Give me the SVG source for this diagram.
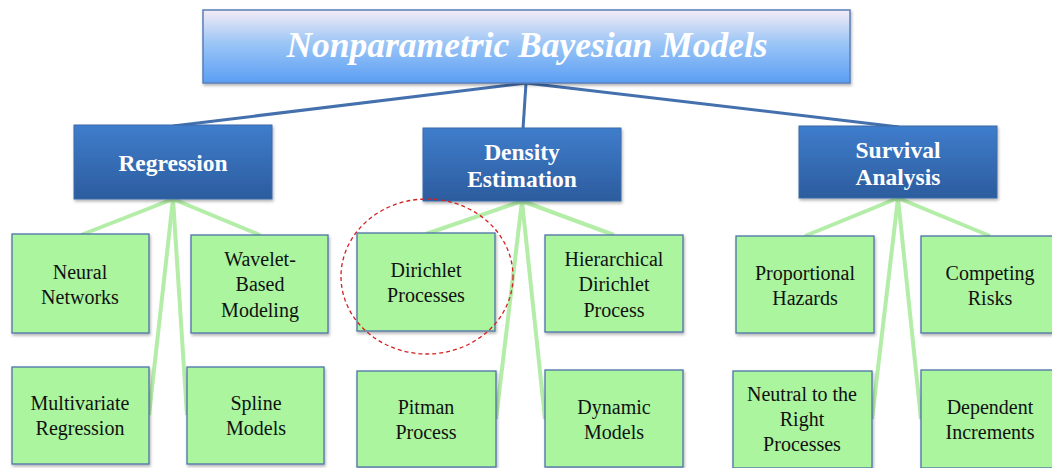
<svg xmlns="http://www.w3.org/2000/svg" width="1052" height="468" viewBox="0 0 1052 468">
<defs>
<linearGradient id="gTitle" x1="0" y1="0" x2="0" y2="1">
<stop offset="0" stop-color="#f4ecf6"/>
<stop offset="0.45" stop-color="#9cc6f6"/>
<stop offset="1" stop-color="#5b9ef4"/>
</linearGradient>
<linearGradient id="gBlue" x1="0" y1="0" x2="0" y2="1">
<stop offset="0" stop-color="#3f7dcc"/>
<stop offset="1" stop-color="#2c5c9e"/>
</linearGradient>
<filter id="sh" x="-10%" y="-10%" width="120%" height="130%">
<feDropShadow dx="1" dy="2" stdDeviation="1.5" flood-color="#000" flood-opacity="0.3"/>
</filter>
</defs>
<style>
.title{fill:url(#gTitle);stroke:#5a7fb8;stroke-width:1.5;filter:url(#sh)}
.cat{fill:url(#gBlue);stroke:#3a6aa8;stroke-width:1;filter:url(#sh)}
.leaf{fill:#aaf59e;stroke:#4d72a8;stroke-width:1.3;filter:url(#sh)}
text{font-family:'Liberation Serif','Times New Roman',Times,'DejaVu Serif',serif;text-anchor:middle}
.tt{font-style:italic;font-weight:bold;font-size:35.5px;fill:#fff}
.ct{font-weight:bold;font-size:23.5px;fill:#fff}
.lt{font-size:20px;fill:#111}
.bl{stroke:#4470ad;stroke-width:3;fill:none}
.gl{stroke:#b4eda8;stroke-width:4;fill:none}
</style>
<g id="connectors">
<line class="bl" x1="526" y1="83" x2="173" y2="126"/>
<line class="bl" x1="526" y1="83" x2="523" y2="129"/>
<line class="bl" x1="526" y1="83" x2="899" y2="127"/>
<line class="gl" x1="173" y1="199" x2="81" y2="235"/>
<line class="gl" x1="173" y1="199" x2="260" y2="235"/>
<line class="gl" x1="173" y1="199" x2="149" y2="415"/>
<line class="gl" x1="173" y1="199" x2="187" y2="415"/>
<line class="gl" x1="522" y1="201" x2="426" y2="234"/>
<line class="gl" x1="522" y1="201" x2="614" y2="235"/>
<line class="gl" x1="522" y1="201" x2="496" y2="419"/>
<line class="gl" x1="522" y1="201" x2="545" y2="419"/>
<line class="gl" x1="898" y1="198" x2="805" y2="236"/>
<line class="gl" x1="898" y1="198" x2="990" y2="236"/>
<line class="gl" x1="898" y1="198" x2="872" y2="419"/>
<line class="gl" x1="898" y1="198" x2="921" y2="419"/>
</g>
<g id="title">
<rect class="title" x="203" y="10" width="647" height="73"/>
<text class="tt" x="527" y="57">Nonparametric Bayesian Models</text>
</g>
<g id="regression">
<rect class="cat" x="74" y="125" width="198" height="74"/>
<text class="ct" x="173" y="171">Regression</text>
</g>
<g id="density">
<rect class="cat" x="423" y="128" width="198" height="73"/>
<text class="ct" x="522" y="160">Density</text>
<text class="ct" x="522" y="187">Estimation</text>
</g>
<g id="survival">
<rect class="cat" x="799" y="126" width="198" height="72"/>
<text class="ct" x="898" y="158">Survival</text>
<text class="ct" x="898" y="185">Analysis</text>
</g>
<g id="neural">
<rect class="leaf" x="12" y="234" width="137" height="99"/>
<text class="lt" x="80" y="279">Neural</text>
<text class="lt" x="80" y="304">Networks</text>
</g>
<g id="wavelet">
<rect class="leaf" x="191" y="235" width="137" height="98"/>
<text class="lt" x="260" y="266">Wavelet-</text>
<text class="lt" x="260" y="291">Based</text>
<text class="lt" x="260" y="317">Modeling</text>
</g>
<g id="multivariate">
<rect class="leaf" x="12" y="367" width="137" height="97"/>
<text class="lt" x="80" y="410">Multivariate</text>
<text class="lt" x="80" y="435">Regression</text>
</g>
<g id="spline">
<rect class="leaf" x="187" y="367" width="137" height="97"/>
<text class="lt" x="256" y="410">Spline</text>
<text class="lt" x="256" y="435">Models</text>
</g>
<g id="dirichlet">
<rect class="leaf" x="357" y="233" width="138" height="98"/>
<text class="lt" x="426" y="277">Dirichlet</text>
<text class="lt" x="426" y="302">Processes</text>
</g>
<g id="hierarchical">
<rect class="leaf" x="545" y="235" width="138" height="97"/>
<text class="lt" x="614" y="266">Hierarchical</text>
<text class="lt" x="614" y="291">Dirichlet</text>
<text class="lt" x="614" y="317">Process</text>
</g>
<g id="pitman">
<rect class="leaf" x="357" y="371" width="139" height="96"/>
<text class="lt" x="426" y="414">Pitman</text>
<text class="lt" x="426" y="439">Process</text>
</g>
<g id="dynamic">
<rect class="leaf" x="545" y="370" width="138" height="97"/>
<text class="lt" x="614" y="414">Dynamic</text>
<text class="lt" x="614" y="439">Models</text>
</g>
<g id="proportional">
<rect class="leaf" x="736" y="236" width="138" height="97"/>
<text class="lt" x="805" y="280">Proportional</text>
<text class="lt" x="805" y="305">Hazards</text>
</g>
<g id="competing">
<rect class="leaf" x="921" y="236" width="140" height="97"/>
<text class="lt" x="990" y="280">Competing</text>
<text class="lt" x="990" y="305">Risks</text>
</g>
<g id="neutral">
<rect class="leaf" x="733" y="371" width="139" height="97"/>
<text class="lt" x="802" y="401">Neutral to the</text>
<text class="lt" x="802" y="426">Right</text>
<text class="lt" x="802" y="451">Processes</text>
</g>
<g id="dependent">
<rect class="leaf" x="921" y="370" width="140" height="98"/>
<text class="lt" x="990" y="414">Dependent</text>
<text class="lt" x="990" y="439">Increments</text>
</g>
<ellipse id="highlight" cx="427" cy="276.5" rx="86" ry="77.5" fill="none" stroke="#d42020" stroke-width="1.3" stroke-dasharray="4,3"/>
</svg>
